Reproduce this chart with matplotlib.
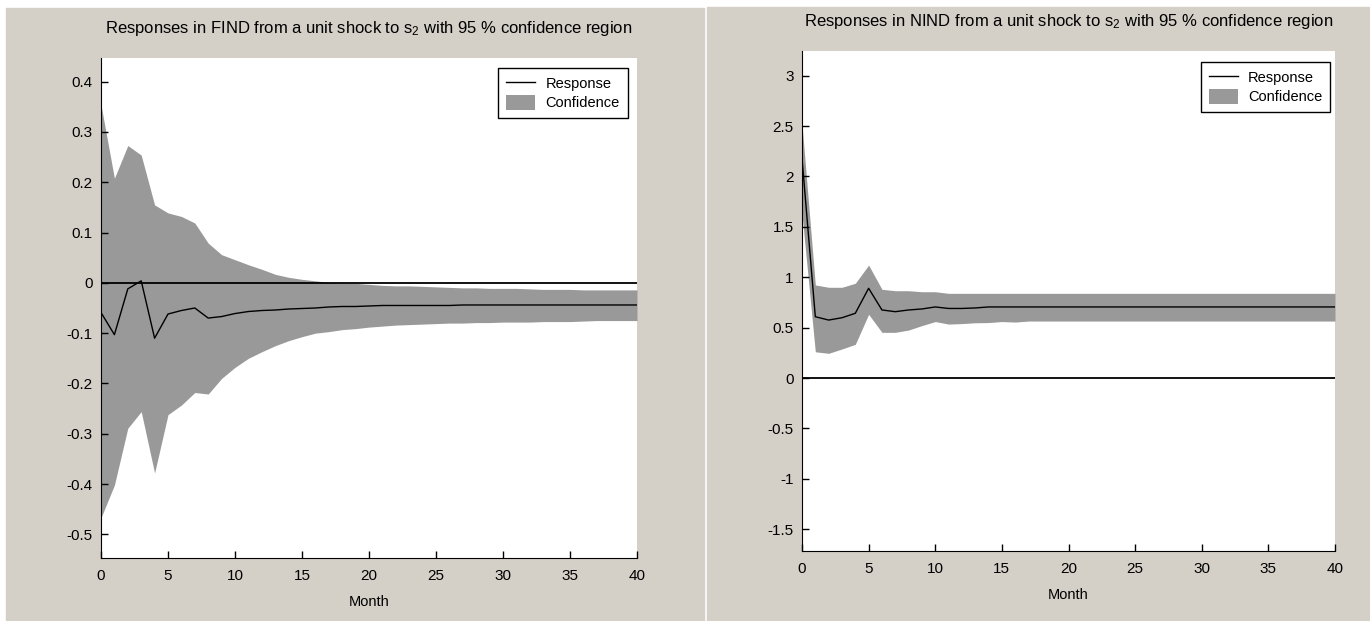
import matplotlib
matplotlib.use('Agg')
import matplotlib.pyplot as plt
from matplotlib.patches import Rectangle
from matplotlib.ticker import FuncFormatter

plt.rcParams['font.family'] = ['Liberation Sans', 'DejaVu Sans']
plt.rcParams['mathtext.default'] = 'regular'

months = list(range(41))

# responses in FIND
find_resp = [-0.059, -0.103, -0.012, 0.004, -0.110, -0.062, -0.055, -0.050, -0.070, -0.067,
             -0.061, -0.057, -0.055, -0.054, -0.052, -0.051, -0.050, -0.048, -0.047, -0.047,
             -0.046, -0.045, -0.045, -0.045, -0.045, -0.045, -0.045, -0.044, -0.044, -0.044,
             -0.044, -0.044, -0.044, -0.044, -0.044, -0.044, -0.044, -0.044, -0.044, -0.044,
             -0.044]
find_upper = [0.354, 0.208, 0.273, 0.254, 0.155, 0.139, 0.132, 0.119, 0.079, 0.056,
              0.046, 0.036, 0.027, 0.017, 0.011, 0.007, 0.004, 0.001, 0.000, -0.001,
              -0.003, -0.005, -0.006, -0.006, -0.007, -0.008, -0.009, -0.010, -0.010, -0.011,
              -0.011, -0.011, -0.012, -0.013, -0.013, -0.013, -0.014, -0.014, -0.014, -0.014,
              -0.014]
find_lower = [-0.467, -0.402, -0.289, -0.256, -0.378, -0.262, -0.243, -0.218, -0.221, -0.190,
              -0.168, -0.150, -0.137, -0.125, -0.115, -0.107, -0.100, -0.097, -0.093, -0.091,
              -0.088, -0.086, -0.084, -0.083, -0.082, -0.081, -0.080, -0.080, -0.079, -0.079,
              -0.078, -0.078, -0.078, -0.077, -0.077, -0.077, -0.076, -0.075, -0.075, -0.075,
              -0.075]

# responses in NIND
nind_resp = [2.18, 0.608, 0.575, 0.598, 0.642, 0.890, 0.675, 0.658, 0.675, 0.685,
             0.705, 0.690, 0.690, 0.695, 0.705, 0.705, 0.705, 0.705, 0.705, 0.705,
             0.705, 0.705, 0.705, 0.705, 0.705, 0.705, 0.705, 0.705, 0.705, 0.705,
             0.705, 0.705, 0.705, 0.705, 0.705, 0.705, 0.705, 0.705, 0.705, 0.705,
             0.705]
nind_upper = [2.52, 0.923, 0.900, 0.900, 0.940, 1.120, 0.880, 0.866, 0.866, 0.856,
              0.856, 0.840, 0.840, 0.840, 0.840, 0.840, 0.840, 0.840, 0.840, 0.840,
              0.840, 0.840, 0.840, 0.840, 0.840, 0.840, 0.840, 0.840, 0.840, 0.840,
              0.840, 0.840, 0.840, 0.840, 0.840, 0.840, 0.840, 0.840, 0.840, 0.840,
              0.840]
nind_lower = [1.63, 0.260, 0.245, 0.288, 0.334, 0.632, 0.453, 0.453, 0.476, 0.520,
              0.560, 0.535, 0.540, 0.548, 0.550, 0.560, 0.555, 0.565, 0.565, 0.565,
              0.565, 0.565, 0.565, 0.565, 0.565, 0.565, 0.565, 0.565, 0.565, 0.565,
              0.565, 0.565, 0.565, 0.565, 0.565, 0.565, 0.565, 0.565, 0.565, 0.565,
              0.565]

find_yticks = [-0.5, -0.4, -0.3, -0.2, -0.1, 0, 0.1, 0.2, 0.3, 0.4]
nind_yticks = [-1.5, -1, -0.5, 0, 0.5, 1, 1.5, 2, 2.5, 3]
xticks = [0, 5, 10, 15, 20, 25, 30, 35, 40]

W, H = 1370, 621
fig = plt.figure(figsize=(W / 100, H / 100), dpi=100, facecolor='white')
panel_gray = '#d4d0c8'
fig.patches.append(Rectangle((6 / W, 0), (704 - 6) / W, (H - 8) / H,
                             transform=fig.transFigure, color=panel_gray, zorder=-5))
fig.patches.append(Rectangle((707 / W, 0), (W - 707) / W, (H - 7) / H,
                             transform=fig.transFigure, color=panel_gray, zorder=-5))


def px_axes(x0, x1, ytop, ybot):
    return fig.add_axes([x0 / W, (H - ybot) / H, (x1 - x0) / W, (ybot - ytop) / H])


def draw_panel(ax, resp, lower, upper, name, ylim, yticks, leg_anchor):
    conf = ax.fill_between(months, lower, upper, color='#999999', linewidth=0, zorder=1)
    line, = ax.plot(months, resp, color='black', linewidth=1.0, zorder=3)
    ax.axhline(0, color='black', linewidth=1.3, zorder=2)
    ax.set_xlim(0, 40)
    ax.set_ylim(*ylim)
    ax.set_xticks(xticks)
    ax.set_yticks(yticks)
    ax.yaxis.set_major_formatter(FuncFormatter(lambda v, p: '%g' % round(v, 2)))
    ax.spines['top'].set_visible(False)
    ax.spines['right'].set_visible(False)
    ax.tick_params(direction='in', length=5, width=1, labelsize=11, colors='black')
    ax.tick_params(axis='x', pad=8)
    ax.tick_params(axis='y', pad=6)
    ax.set_xlabel('Month', fontsize=10.5)
    ax.xaxis.set_label_coords(0.5, -0.074)
    ax.text(0.5, 1.05, 'Responses in %s from a unit shock to s$_2$ with 95 %% confidence region' % name,
            transform=ax.transAxes, ha='center', va='baseline', fontsize=12)
    leg = ax.legend([line, conf], ['Response', 'Confidence'], loc='upper right',
                    bbox_to_anchor=leg_anchor, borderaxespad=0, fancybox=False,
                    edgecolor='black', framealpha=1, fontsize=10.5, handlelength=2.0,
                    handleheight=1.2, handletextpad=0.7, labelspacing=0.25, borderpad=0.55)
    leg.get_frame().set_linewidth(1.0)


ax1 = px_axes(101, 637, 58, 558)
draw_panel(ax1, find_resp, find_lower, find_upper, 'FIND', (-0.547, 0.447),
           find_yticks, (0.983, 0.98))

ax2 = px_axes(802, 1335, 51, 551)
draw_panel(ax2, nind_resp, nind_lower, nind_upper, 'NIND', (-1.716, 3.244),
           nind_yticks, (0.991, 0.978))

plt.savefig('out.png', dpi=100, facecolor=fig.get_facecolor())
